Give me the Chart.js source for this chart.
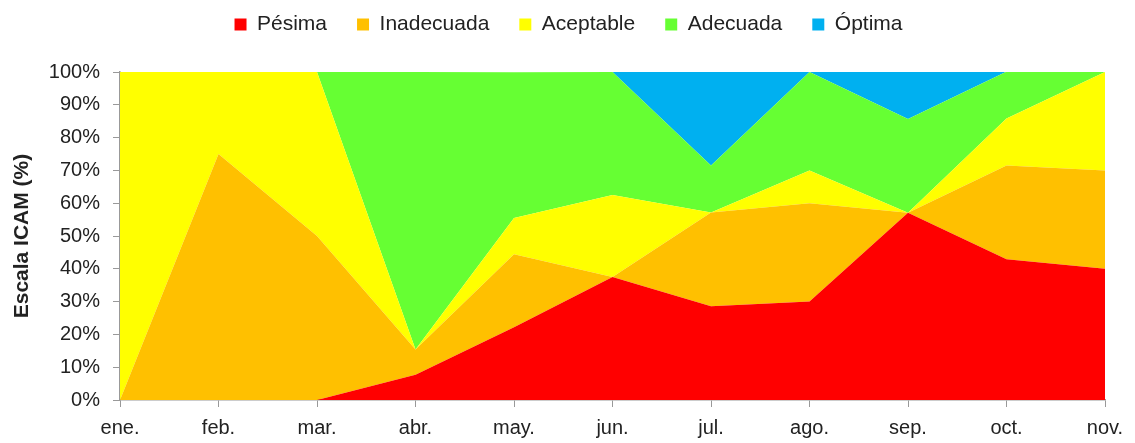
<!DOCTYPE html>
<html>
<head>
<meta charset="utf-8">
<script src="https://cdn.jsdelivr.net/npm/chart.js@4/dist/chart.umd.min.js"></script>
<style>
  html, body { margin: 0; padding: 0; background: #fff; }
  #wrap { width: 1135px; height: 443px; }
</style>
</head>
<body>
<div id="wrap"><canvas id="chartIcam"></canvas></div>
<script>
// Meses
const meses = ["ene.", "feb.", "mar.", "abr.", "may.", "jun.", "jul.", "ago.", "sep.", "oct.", "nov."];

// Porcentaje por categoria ICAM
const pesima     = [0, 0,  0,  7.7, 22.2, 37.5, 28.6, 30, 57.1, 42.9, 40];
const inadecuada = [0, 75, 50, 7.7, 22.2, 0,    28.6, 30, 0,    28.6, 30];
const aceptable  = [100, 25, 50, 0, 11.1, 25,  0,    10, 0,    14.3, 30];
const adecuada   = [0, 0,  0,  84.6, 44.4, 37.5, 14.3, 30, 28.6, 14.3, 0];
const optima     = [0, 0,  0,  0,   0,    0,    28.6, 0,  14.3, 0,    0];

const fuente = "'Liberation Sans', Arial, sans-serif";
const colorTexto = "#222";

function serie(label, data, color, fill) {
    return {
        label: label,
        data: data,
        backgroundColor: color,
        borderColor: color,
        borderWidth: 0,
        pointRadius: 0,
        tension: 0,
        fill: fill
    };
}

// Alto fijo para la leyenda y un poco corrida a la derecha
const ajusteLeyenda = {
    id: "ajusteLeyenda",
    beforeInit(chart) {
        const fitOrig = chart.legend.fit;
        chart.legend.fit = function () {
            fitOrig.bind(chart.legend)();
            this.height = 88;
        };
    },
    afterLayout(chart) {
        chart.legend.left += 16;
        chart.legend.right += 16;
    }
};

new Chart(document.getElementById("chartIcam"), {
    type: "line",
    data: {
        labels: meses,
        datasets: [
            serie("Pésima", pesima, "#FF0000", "origin"),
            serie("Inadecuada", inadecuada, "#FFC000", "-1"),
            serie("Aceptable", aceptable, "#FFFF00", "-1"),
            serie("Adecuada", adecuada, "#66FF33", "-1"),
            serie("Óptima", optima, "#00B0F0", "-1")
        ]
    },
    plugins: [ajusteLeyenda],
    options: {
        responsive: true,
        maintainAspectRatio: false,
        animation: false,
        layout: { padding: { left: 0, right: 30, top: -16, bottom: 0 } },
        plugins: {
            legend: {
                position: "top",
                labels: {
                    boxWidth: 12,
                    boxHeight: 12,
                    padding: 30,
                    color: colorTexto,
                    font: { family: fuente, size: 21 }
                }
            },
            tooltip: { enabled: false }
        },
        scales: {
            x: {
                offset: false,
                grid: { display: true, drawOnChartArea: false, tickLength: 7, color: "#999" },
                border: { color: "#999", width: 1.5 },
                ticks: { color: colorTexto, font: { family: fuente, size: 20 }, maxRotation: 0, padding: 9 },
                afterFit(scale) { scale.height = 43; }
            },
            y: {
                stacked: true,
                min: 0,
                max: 100,
                grid: { display: true, drawOnChartArea: false, tickLength: 7, color: "#999" },
                border: { color: "#999", width: 1.5 },
                ticks: {
                    stepSize: 10,
                    color: colorTexto,
                    font: { family: fuente, size: 20 },
                    padding: 13,
                    callback: v => v + "%"
                },
                title: {
                    display: true,
                    text: "Escala ICAM (%)",
                    color: colorTexto,
                    font: { family: fuente, size: 21, weight: "bold" },
                    padding: { top: 10, bottom: 0 }
                },
                afterFit(scale) { scale.width = 120; }
            }
        }
    }
});
</script>
</body>
</html>
